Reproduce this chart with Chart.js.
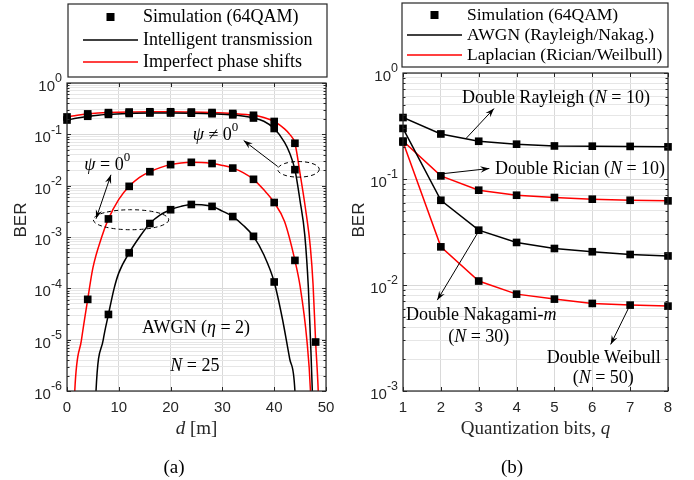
<!DOCTYPE html>
<html>
<head>
<meta charset="utf-8">
<script src="https://cdn.jsdelivr.net/npm/chart.js@4.4.0/dist/chart.umd.min.js"></script>
<style>
html, body { margin: 0; padding: 0; background: #fff; }
#wrap { position: relative; width: 694px; height: 480px; }
#cA { position: absolute; left: 0; top: 0; }
#cB { position: absolute; left: 345px; top: 0; }
</style>
</head>
<body>
<div id="wrap">
  <canvas id="cA" width="345" height="480"></canvas>
  <canvas id="cB" width="349" height="480"></canvas>
</div>
<script>
// ---- (a) BER vs distance d [m] ----
// simulation points (64QAM), every 4 m
const dSim = [0, 4, 8, 12, 16, 20, 24, 28, 32, 36, 40, 44, 48];
const simItPsi  = [0.19, 0.225, 0.245, 0.255, 0.26, 0.26, 0.258, 0.252, 0.24, 0.208, 0.13, 0.0205, null];
const simIpsPsi = [0.218, 0.25, 0.265, 0.272, 0.275, 0.275, 0.272, 0.266, 0.255, 0.235, 0.178, 0.067, 9e-6];
const simIt0    = [null, null, 3.1e-5, 4.9e-4, 1.83e-3, 3.4e-3, 4.3e-3, 3.95e-3, 2.5e-3, 1.03e-3, 1.33e-4, null, null];
const simIps0   = [null, 6.1e-5, 2.25e-3, 9.7e-3, 0.0187, 0.0257, 0.0285, 0.027, 0.022, 0.0133, 4.7e-3, 3.5e-4, null];

// analytical curves
const dItPsi = [0, 2, 4, 6, 8, 12, 16, 20, 24, 28, 32, 36, 38, 40, 42, 43, 44, 45, 45.9, 46.6, 47, 47.36, 47.6];
const itPsi  = [0.19, 0.207, 0.222, 0.235, 0.245, 0.255, 0.26, 0.26, 0.258, 0.252, 0.24, 0.208, 0.18, 0.13, 0.07, 0.043, 0.0205, 5e-3, 1.1e-3, 1e-4, 1e-5, 1e-6, 1e-7];
const dIpsPsi = [0, 2, 4, 6, 8, 12, 16, 20, 24, 28, 32, 36, 38, 40, 42, 43, 44, 45, 46, 47, 47.5, 48, 48.5, 48.8];
const ipsPsi  = [0.218, 0.236, 0.25, 0.259, 0.265, 0.272, 0.275, 0.275, 0.272, 0.266, 0.255, 0.235, 0.213, 0.178, 0.128, 0.1, 0.067, 0.017, 3.8e-3, 6e-4, 1.2e-4, 9e-6, 1e-6, 1e-7];
const dIt0 = [5.3, 5.6, 7, 8, 9.1, 10, 12, 14, 16, 18, 20, 22, 24, 26, 28, 30, 32, 34, 36, 38, 40, 41.6, 43, 44, 44.3];
const it0  = [1e-7, 1e-6, 1e-5, 3.1e-5, 1e-4, 2e-4, 4.9e-4, 1e-3, 1.83e-3, 2.7e-3, 3.4e-3, 3.95e-3, 4.3e-3, 4.25e-3, 3.95e-3, 3.2e-3, 2.5e-3, 1.7e-3, 1.03e-3, 4.5e-4, 1.33e-4, 2.5e-5, 4.2e-6, 1e-6, 1e-7];
const dIps0 = [1.2, 1.5, 2.8, 4, 5, 6.7, 8, 10, 12, 14, 16, 18, 20, 22, 24, 26, 28, 30, 32, 34, 36, 38, 40, 42, 44, 45, 46.3, 47, 47.3];
const ips0  = [1e-7, 1e-6, 1e-5, 6.1e-5, 2.5e-4, 1e-3, 2.25e-3, 5.4e-3, 9.7e-3, 0.0145, 0.0187, 0.0225, 0.0257, 0.0277, 0.0285, 0.0283, 0.027, 0.0248, 0.022, 0.018, 0.0133, 8.3e-3, 4.7e-3, 2e-3, 3.5e-4, 1.1e-4, 1e-5, 1e-6, 1e-7];

// ---- (b) BER vs quantization bits q ----
const qBits = [1, 2, 3, 4, 5, 6, 7, 8];
const berRayleigh = [0.38, 0.266, 0.227, 0.213, 0.205, 0.204, 0.203, 0.201];
const berRician   = [0.228, 0.107, 0.0784, 0.0703, 0.0669, 0.0645, 0.063, 0.0622];
const berNakagami = [0.3, 0.063, 0.0329, 0.0252, 0.0221, 0.0206, 0.0194, 0.0188];
const berWeibull  = [0.223, 0.0229, 0.0109, 0.0082, 0.00736, 0.0067, 0.00646, 0.00632];

const SERIF = '"Liberation Serif", "Times New Roman", serif';
const SANS = '"Liberation Sans", Arial, sans-serif';
const INK = '#262626';
const RED = '#ff0000';

function pts(xs, ys) {
  return xs.map((x, i) => ({x: x, y: ys[i]})).filter(p => p.y !== null);
}

function logTicks(minExp, maxExp) {
  const t = [];
  for (let e = minExp; e < maxExp; e++) {
    for (let s = 1; s < 10; s++) t.push({value: s * Math.pow(10, e), major: s === 1});
  }
  t.push({value: Math.pow(10, maxExp), major: true});
  return t;
}

function squares(data) {
  return {data: data, showLine: false, pointStyle: 'rect', pointRadius: 5.4,
    backgroundColor: '#000', borderColor: '#000', borderWidth: 0, clip: false};
}
function curve(data, color, smooth) {
  return {data: data, borderColor: color, borderWidth: 1.5, pointRadius: 0, fill: false,
    cubicInterpolationMode: smooth ? 'monotone' : 'default', tension: 0};
}

// rich text: parts = [[text, kind]], kind '' | 'i' | 'sup'
function drawRich(ctx, parts, x, y, align, size) {
  const fontOf = k => k === 'i' ? 'italic ' + size + 'px ' + SERIF
    : k === 'sup' ? Math.round(size * 0.7) + 'px ' + SERIF : size + 'px ' + SERIF;
  let w = 0;
  parts.forEach(p => { ctx.font = fontOf(p[1]); w += ctx.measureText(p[0]).width; });
  let cx = align === 'center' ? x - w / 2 : (align === 'right' ? x - w : x);
  ctx.textAlign = 'left';
  ctx.textBaseline = 'middle';
  parts.forEach(p => {
    ctx.font = fontOf(p[1]);
    ctx.fillText(p[0], cx, p[1] === 'sup' ? y - size * 0.38 : y);
    cx += ctx.measureText(p[0]).width;
  });
}

function arrowHead(ctx, x1, y1, x2, y2) {
  const a = Math.atan2(y2 - y1, x2 - x1), len = 9, half = 3.2;
  const c = Math.cos(a), s = Math.sin(a);
  ctx.beginPath();
  ctx.moveTo(x2, y2);
  ctx.lineTo(x2 - len * c + half * s, y2 - len * s - half * c);
  ctx.lineTo(x2 - 0.65 * len * c, y2 - 0.65 * len * s);
  ctx.lineTo(x2 - len * c - half * s, y2 - len * s + half * c);
  ctx.closePath();
  ctx.fill();
}

function decoPlugin(spec) {
  return {
    id: 'deco',
    afterDraw(chart) {
      const ctx = chart.ctx, a = chart.chartArea, xs = chart.scales.x, ys = chart.scales.y;
      ctx.save();

      // annotations
      ctx.fillStyle = '#000';
      ctx.strokeStyle = '#000';
      spec.notes.forEach(n => {
        if (n.type === 'text') {
          drawRich(ctx, n.parts, xs.getPixelForValue(n.x), ys.getPixelForValue(n.y), n.align, 18);
        } else if (n.type === 'arrow') {
          const x1 = xs.getPixelForValue(n.from[0]), y1 = ys.getPixelForValue(n.from[1]);
          const x2 = xs.getPixelForValue(n.to[0]), y2 = ys.getPixelForValue(n.to[1]);
          ctx.lineWidth = 1;
          ctx.beginPath(); ctx.moveTo(x1, y1); ctx.lineTo(x2, y2); ctx.stroke();
          arrowHead(ctx, x1, y1, x2, y2);
          if (n.both) arrowHead(ctx, x2, y2, x1, y1);
        } else if (n.type === 'ellipse') {
          ctx.lineWidth = 1;
          ctx.setLineDash([4, 3]);
          ctx.beginPath();
          ctx.ellipse(xs.getPixelForValue(n.at[0]), ys.getPixelForValue(n.at[1]), n.rx, n.ry, 0, 0, Math.PI * 2);
          ctx.stroke();
          ctx.setLineDash([]);
        }
      });

      // inner tick marks and axes box
      ctx.strokeStyle = INK;
      ctx.lineWidth = 1;
      ctx.beginPath();
      xs.ticks.forEach(t => {
        const px = Math.round(xs.getPixelForValue(t.value)) + 0.5;
        ctx.moveTo(px, a.bottom); ctx.lineTo(px, a.bottom - 4);
        ctx.moveTo(px, a.top); ctx.lineTo(px, a.top + 4);
      });
      ys.ticks.forEach(t => {
        const py = Math.round(ys.getPixelForValue(t.value)) + 0.5;
        const L = t.major ? 4 : 2.5;
        ctx.moveTo(a.left, py); ctx.lineTo(a.left + L, py);
        ctx.moveTo(a.right, py); ctx.lineTo(a.right - L, py);
      });
      ctx.stroke();
      ctx.lineWidth = 1.2;
      ctx.strokeRect(a.left, a.top, a.right - a.left, a.bottom - a.top);

      // tick labels
      ctx.fillStyle = INK;
      ctx.textBaseline = 'middle';
      ctx.font = '15px ' + SANS;
      ctx.textAlign = 'center';
      xs.ticks.forEach(t => ctx.fillText(String(t.value), xs.getPixelForValue(t.value), 408));
      ys.ticks.filter(t => t.major).forEach(t => {
        const e = String(Math.round(Math.log10(t.value)));
        const py = ys.getPixelForValue(t.value);
        const right = a.left - 5;
        ctx.font = '12.5px ' + SANS;
        const we = ctx.measureText(e).width;
        ctx.textAlign = 'left';
        ctx.fillText(e, right - we, py - 4);
        ctx.font = '15px ' + SANS;
        ctx.textAlign = 'right';
        ctx.fillText('10', right - we, py + 4);
      });

      // axis titles
      ctx.save();
      ctx.translate(spec.berX, 220);
      ctx.rotate(-Math.PI / 2);
      ctx.font = '17px ' + SANS;
      ctx.textAlign = 'center';
      ctx.fillText('BER', 0, 0);
      ctx.restore();
      ctx.fillStyle = INK;
      drawRich(ctx, spec.xTitle, (a.left + a.right) / 2, 429, 'center', 19);
      ctx.fillStyle = '#000';
      drawRich(ctx, [[spec.caption, '']], spec.capX, 468, 'center', 19);

      // legend
      const L = spec.legend, b = L.box;
      ctx.fillStyle = '#fff';
      ctx.fillRect(b[0], b[1], b[2] - b[0], b[3] - b[1]);
      ctx.strokeStyle = INK;
      ctx.lineWidth = 1.2;
      ctx.strokeRect(b[0], b[1], b[2] - b[0], b[3] - b[1]);
      const mid = (L.lineX[0] + L.lineX[1]) / 2;
      L.rows.forEach(r => {
        if (r.kind === 'marker') {
          ctx.fillStyle = '#000';
          ctx.fillRect(mid - 4, r.y - 4, 8, 8);
        } else {
          ctx.strokeStyle = r.color;
          ctx.lineWidth = 1.5;
          ctx.beginPath(); ctx.moveTo(L.lineX[0], r.y); ctx.lineTo(L.lineX[1], r.y); ctx.stroke();
        }
        ctx.fillStyle = '#000';
        drawRich(ctx, [[r.label, '']], L.textX, r.y, 'left', L.size);
      });
      ctx.restore();
    }
  };
}

function baseOptions(xMin, xMax, xStep, yMinExp, yWidth, padRight, padTop) {
  return {
    responsive: false,
    animation: false,
    devicePixelRatio: 1,
    events: [],
    layout: {padding: {left: 0, right: padRight, top: padTop, bottom: 49}},
    plugins: {legend: {display: false}, tooltip: {enabled: false}},
    scales: {
      x: {
        type: 'linear', min: xMin, max: xMax,
        ticks: {display: false, stepSize: xStep},
        grid: {color: '#d9d9d9', drawTicks: false},
        border: {display: false},
        afterFit: s => { s.height = 40; }
      },
      y: {
        type: 'logarithmic', min: Math.pow(10, yMinExp), max: 1,
        ticks: {display: false},
        afterBuildTicks: s => { s.ticks = logTicks(yMinExp, 0); },
        grid: {color: c => (c.tick && c.tick.major) ? '#d9d9d9' : '#e6e6e6', drawTicks: false},
        border: {display: false},
        afterFit: s => { s.width = yWidth; }
      }
    }
  };
}

// ---- chart (a) ----
const notesA = [
  {type: 'text', x: 24.27, y: 0.0975, align: 'left', parts: [['ψ', 'i'], [' ≠ 0', ''], ['0', 'sup']]},
  {type: 'arrow', from: [40.68, 0.0236], to: [34.11, 0.0756]},
  {type: 'ellipse', at: [44.69, 0.0208], rx: 20.8, ry: 7.8},
  {type: 'text', x: 3.34, y: 0.0255, align: 'left', parts: [['ψ', 'i'], [' = 0', ''], ['0', 'sup']]},
  {type: 'arrow', from: [5.6, 2.27e-3], to: [8.49, 0.0163], both: true},
  {type: 'ellipse', at: [12.36, 2.17e-3], rx: 37.7, ry: 10},
  {type: 'text', x: 24.9, y: 1.66e-5, align: 'center', parts: [['AWGN (', ''], ['η', 'i'], [' = 2)', '']]},
  {type: 'text', x: 24.7, y: 3.02e-6, align: 'center', parts: [['N', 'i'], [' = 25', '']]}
];

new Chart(document.getElementById('cA').getContext('2d'), {
  type: 'line',
  data: {
    datasets: [
      squares(pts(dSim, simItPsi)),
      squares(pts(dSim, simIpsPsi)),
      squares(pts(dSim, simIt0)),
      squares(pts(dSim, simIps0)),
      curve(pts(dItPsi, itPsi), '#000', true),
      curve(pts(dIt0, it0), '#000', true),
      curve(pts(dIpsPsi, ipsPsi), RED, true),
      curve(pts(dIps0, ips0), RED, true)
    ]
  },
  options: baseOptions(0, 50, 10, -6, 67, 19, 83),
  plugins: [decoPlugin({
    notes: notesA,
    berX: 21,
    xTitle: [['d', 'i'], [' [m]', '']],
    caption: '(a)', capX: 174,
    legend: {
      box: [68, 4, 327, 77], lineX: [83, 138], textX: 143, size: 18,
      rows: [
        {y: 17, kind: 'marker', label: 'Simulation (64QAM)'},
        {y: 40, kind: 'line', color: '#000', label: 'Intelligent transmission'},
        {y: 62, kind: 'line', color: RED, label: 'Imperfect phase shifts'}
      ]
    }
  })]
});

// ---- chart (b) ----
const notesB = [
  {type: 'text', x: 5.04, y: 0.581, align: 'center', parts: [['Double Rayleigh (', ''], ['N', 'i'], [' = 10)', '']]},
  {type: 'arrow', from: [2.664, 0.241], to: [3.404, 0.462]},
  {type: 'text', x: 5.675, y: 0.1237, align: 'center', parts: [['Double Rician (', ''], ['N', 'i'], [' = 10)', '']]},
  {type: 'arrow', from: [1.996, 0.1117], to: [3.28, 0.1256]},
  {type: 'text', x: 3.065, y: 5.13e-3, align: 'center', parts: [['Double Nakagami-', ''], ['m', 'i']]},
  {type: 'text', x: 3.0, y: 3.18e-3, align: 'center', parts: [['(', ''], ['N', 'i'], [' = 30)', '']]},
  {type: 'arrow', from: [3.015, 0.0329], to: [1.906, 7.2e-3]},
  {type: 'text', x: 6.30, y: 2.03e-3, align: 'center', parts: [['Double Weibull', '']]},
  {type: 'text', x: 6.29, y: 1.33e-3, align: 'center', parts: [['(', ''], ['N', 'i'], [' = 50)', '']]},
  {type: 'arrow', from: [6.996, 6.46e-3], to: [6.486, 2.75e-3]}
];

new Chart(document.getElementById('cB').getContext('2d'), {
  type: 'line',
  data: {
    datasets: [
      squares(pts(qBits, berRayleigh)),
      squares(pts(qBits, berRician)),
      squares(pts(qBits, berNakagami)),
      squares(pts(qBits, berWeibull)),
      curve(pts(qBits, berRayleigh), '#000', false),
      curve(pts(qBits, berNakagami), '#000', false),
      curve(pts(qBits, berRician), RED, false),
      curve(pts(qBits, berWeibull), RED, false)
    ]
  },
  options: baseOptions(1, 8, 1, -3, 58, 26, 73),
  plugins: [decoPlugin({
    notes: notesB,
    berX: 14,
    xTitle: [['Quantization bits, ', ''], ['q', 'i']],
    caption: '(b)', capX: 167,
    legend: {
      box: [57, 3, 323, 67], lineX: [62, 117], textX: 122, size: 17.5,
      rows: [
        {y: 15, kind: 'marker', label: 'Simulation (64QAM)'},
        {y: 35, kind: 'line', color: '#000', label: 'AWGN (Rayleigh/Nakag.)'},
        {y: 55, kind: 'line', color: RED, label: 'Laplacian (Rician/Weilbull)'}
      ]
    }
  })]
});
</script>
</body>
</html>
